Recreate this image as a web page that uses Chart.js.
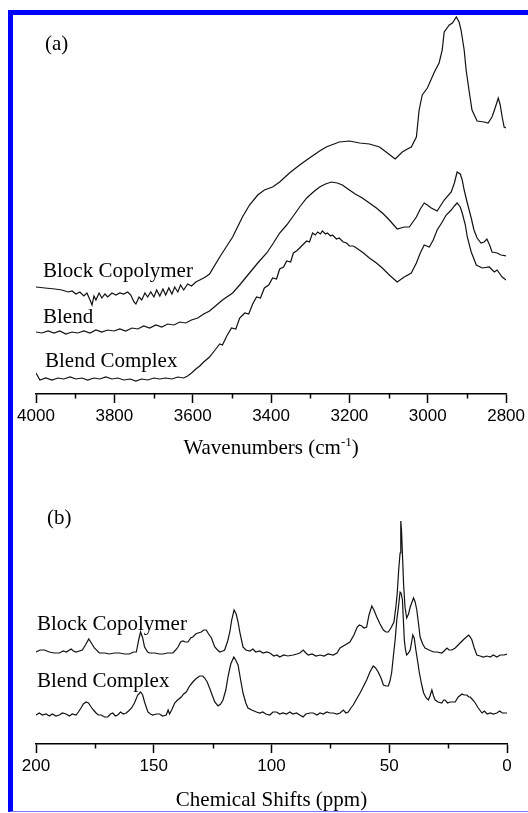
<!DOCTYPE html>
<html>
<head>
<meta charset="utf-8">
<script src="https://cdn.jsdelivr.net/npm/chart.js@4.4.1/dist/chart.umd.min.js"></script>
<style>
  html, body { margin: 0; padding: 0; background: #fff; }
  body { width: 528px; height: 813px; position: relative; overflow: hidden; }
  .frame {
    position: absolute; left: 8px; top: 10px; width: 520px; height: 802px;
    box-sizing: border-box;
    border-left: 5px solid #0000ff; border-top: 5px solid #0000ff;
    border-bottom: 1px solid #7a7aff;
  }
  canvas { position: absolute; left: 0; }
  #ftir { top: 0; }
  #nmr { top: 470px; }
</style>
</head>
<body>
<div class="frame"></div>
<canvas id="ftir" width="528" height="470"></canvas>
<canvas id="nmr" width="528" height="343"></canvas>
<script>
// (a) FTIR spectra, wavenumber (cm-1) vs absorbance (arbitrary, stacked)
const blockWn = [4000,3977,3952,3934,3918,3908,3898,3888,3878,3870,3862,3857,3852,3847,3839,3832,3824,3817,3806,3796,
  3786,3776,3766,3758,3750,3745,3737,3730,3722,3715,3707,3699,3692,3684,3676,3669,3661,3653,3646,3638,
  3631,3623,3613,3603,3592,3582,3572,3564,3557,3531,3498,3473,3455,3434,3417,3396,3378,3353,3327,3302,
  3276,3259,3226,3200,3174,3149,3123,3103,3083,3065,3052,3042,3029,3022,3014,3001,2983,2971,2963,2958,
  2945,2937,2927,2920,2915,2907,2902,2894,2887,2874,2856,2846,2836,2828,2820,2815,2810,2805,2800];
const blockAbs = [107,106,105,104,102,103,100,102,98,101,94,89,98,94,101,96,100,97,101,99,
  101,100,102,99,92,90,97,94,101,97,102,97,104,98,105,99,106,100,107,102,
  109,104,110,108,112,114,116,118,120,137,157,177,189,199,204,207,212,221,229,236,
  243,247,252,253,251,250,247,241,235,242,245,247,257,284,299,306,322,331,344,362,
  369,371,377,372,364,344,324,302,284,273,272,271,277,286,296,289,277,267,266];

const blendWn = [4000,3985,3969,3954,3939,3924,3908,3893,3878,3862,3847,3832,3817,3801,3786,3771,3755,3740,3725,3710,
  3694,3679,3664,3648,3633,3618,3603,3587,3572,3557,3539,3524,3498,3478,3455,3434,3411,3394,3378,3360,
  3345,3327,3309,3292,3276,3261,3246,3231,3218,3200,3185,3167,3149,3131,3113,3098,3078,3060,3047,3029,
  3019,3009,3001,2991,2976,2958,2940,2932,2925,2917,2912,2907,2899,2889,2882,2874,2864,2856,2849,2841,
  2836,2823,2813,2800];
const blendAbs = [62,61,63,61,63,60,62,61,63,61,64,62,64,63,65,63,66,65,68,66,
  69,67,70,69,72,71,74,76,80,83,89,94,101,110,121,131,141,151,161,169,
  177,187,196,202,207,210,212,211,209,204,200,196,191,186,180,174,165,167,167,177,
  185,191,189,186,183,194,202,211,222,220,214,204,191,176,164,156,151,152,155,148,
  142,141,139,138];

const complexWn = [4000,3990,3975,3959,3944,3929,3913,3898,3883,3868,3852,3837,3822,3806,3791,3776,3760,3745,3730,3715,
  3699,3684,3669,3653,3638,3623,3613,3603,3592,3582,3572,3557,3541,3531,3524,3513,3501,3490,3480,3467,
  3457,3447,3437,3427,3417,3406,3396,3386,3378,3368,3360,3350,3343,3335,3327,3317,3309,3302,3294,3287,
  3281,3274,3269,3261,3256,3248,3243,3233,3226,3216,3207,3200,3190,3182,3164,3149,3131,3116,3098,3078,
  3060,3042,3029,3019,3009,2996,2986,2976,2963,2953,2940,2932,2925,2917,2912,2904,2899,2889,2876,2861,
  2843,2830,2823,2810,2800];
const complexAbs = [21,14,16,14,16,15,17,15,16,14,16,15,17,15,16,14,15,13,15,14,
  16,15,16,15,17,16,18,21,25,28,32,37,45,50,49,58,66,65,76,81,
  80,90,97,96,106,109,116,115,125,127,133,132,141,143,146,150,153,152,161,159,
  162,160,163,160,161,158,159,155,156,152,151,148,148,146,141,136,131,126,119,112,
  117,121,131,141,149,147,154,164,172,179,184,188,191,187,181,169,157,142,129,126,
  127,122,124,117,114];

// (b) 13C NMR spectra, chemical shift (ppm) vs intensity (arbitrary, stacked)
const copolyPpm = [200,198.2,196.5,194.3,192.2,190.1,188.4,187.1,185.1,184.1,183.0,181.6,180.3,179.0,177.6,176.5,175.2,173.1,170.9,168.8,
  166.7,164.6,162.4,160.3,158.6,157.4,156.4,155.6,154.7,153.9,152.6,151.8,149.7,147.5,146.1,144.1,141.9,140.7,139.7,138.6,
  137.6,136.5,135.5,134.3,133.4,132.2,131.2,129.8,128.8,127.7,126.7,125.5,124.1,122.9,122.0,120.7,119.9,118.6,117.7,116.9,
  115.9,115.0,114.2,113.3,112.1,110.9,109.2,107.9,106.7,105.0,103.6,102.0,100.7,99.0,97.7,96.5,94.8,93.1,90.8,89.2,
  88.0,86.5,85.4,84.4,82.8,81.1,79.4,77.7,76.0,73.8,72.2,70.9,68.8,66.7,65.0,63.6,62.7,61.7,60.7,59.6,
  58.6,57.4,56.5,55.3,53.9,52.5,51.4,50.4,49.3,48.0,47.1,46.6,46.0,45.4,45.1,44.8,44.3,43.9,43.3,42.6,
  41.8,41.1,39.7,39.0,38.3,37.5,36.9,35.8,34.8,33.1,31.2,29.7,27.7,26.7,25.5,24.6,23.4,22.0,19.9,18.2,
  16.3,15.6,14.9,13.9,12.8,11.4,10.1,8.5,7.1,5.8,4.3,2.9,1.2,0];
const copolyInt = [92,94,94,92,91,91,93,92,95,93,92,93,94,99,105,101,96,91,91,90,
  91,91,90,90,92,92,104,112,106,97,92,91,91,90,90,91,91,94,97,102,
  103,102,102,106,107,110,111,112,114,114,110,106,97,94,92,93,94,103,112,124,
  134,130,122,110,97,94,93,95,92,93,91,92,91,88,89,87,89,88,89,90,
  91,94,91,89,90,88,89,88,90,89,91,96,99,102,109,117,119,118,116,117,
  129,138,134,127,120,114,112,112,116,122,139,151,174,191,223,214,184,159,137,126,
  130,137,146,142,134,119,107,100,96,94,92,92,91,93,96,94,94,96,101,105,
  109,107,104,96,89,88,87,88,87,89,87,89,89,90];

const cplxPpm = [200,198.6,197.3,195.7,194.3,193.1,191.5,190.1,188.8,187.2,185.8,184.6,183.0,182.0,180.9,179.9,178.7,177.7,176.6,175.6,
  174.5,173.5,172.3,170.9,169.5,168.4,167.4,166.3,165.3,164.1,162.9,161.7,160.7,159.4,158.2,156.8,155.6,154.7,153.9,152.5,
  151.4,150.4,148.8,147.5,146.3,144.7,143.9,143.3,142.4,141.1,139.9,138.3,137.3,136.2,134.8,133.4,132.2,130.5,129.2,128.4,
  127.3,126.3,125.2,124.1,122.7,121.6,120.6,119.4,118.5,117.3,116.0,115.2,114.2,113.1,112.1,110.9,110.0,108.4,106.4,105.0,
  103.7,102.4,100.7,99.4,97.9,96.5,95.2,93.6,92.2,90.9,89.4,88.0,86.6,85.4,83.7,82.3,80.7,79.4,78.0,76.5,
  75.2,73.8,72.2,70.9,69.5,68.4,67.4,66.3,65.3,64.1,62.4,61.1,59.6,58.2,56.8,55.8,54.7,53.5,52.5,51.4,
  50.4,49.7,49.0,48.2,47.5,46.8,46.1,45.4,45.0,44.4,44.0,43.6,43.1,42.6,41.8,41.1,40.5,40.0,39.4,38.7,
  37.9,37.2,36.2,35.4,34.3,33.4,32.7,31.9,31.2,30.5,29.3,27.7,26.9,26.3,25.2,24.1,23.1,22.0,20.7,19.1,
  18.2,17.0,16.3,15.6,14.5,13.5,12.2,10.6,9.6,8.4,7.1,5.8,4.3,3.1,2.0,0];
const cplxInt = [29,31,29,30,28,30,28,29,31,30,28,30,29,32,36,40,42,41,37,34,
  31,29,29,27,27,30,31,28,29,32,30,31,33,36,41,49,52,49,42,32,
  30,29,30,30,28,29,34,30,34,41,44,47,50,52,58,62,65,68,68,66,
  62,56,49,42,38,40,44,54,67,80,87,84,79,64,51,41,36,34,32,31,
  32,30,29,32,32,30,31,30,32,30,31,29,27,30,31,31,29,31,30,32,
  31,31,30,31,34,31,32,36,39,44,51,57,64,72,78,76,72,66,59,58,
  58,63,71,89,104,124,137,152,151,144,124,104,94,89,91,94,102,109,106,94,
  82,71,59,51,46,44,48,54,48,44,42,41,44,44,41,42,42,42,47,50,
  49,49,47,47,44,41,36,31,33,30,31,30,31,33,31,31];

const ftirTicks = { min: 2800, max: 4000, major: 200, minor: 100 };
const nmrTicks = { min: 0, max: 200, major: 50, minor: 25 };

const serif = '"Liberation Serif", "Times New Roman", serif';
const sans = '"Liberation Sans", Arial, sans-serif';

function toPoints(xs, ys) {
  return xs.map((x, i) => ({ x: x, y: ys[i] }));
}

function spectrum(xs, ys) {
  return {
    data: toPoints(xs, ys),
    showLine: true,
    pointRadius: 0,
    borderColor: '#111',
    borderWidth: 1.2,
    tension: 0,
    fill: false
  };
}

// short ticks between the labelled ones
const minorTicks = {
  id: 'minorTicks',
  afterDraw(chart, args, opts) {
    const scale = chart.scales.x;
    const ctx = chart.ctx;
    ctx.save();
    ctx.strokeStyle = '#000';
    ctx.lineWidth = 1.5;
    for (let v = scale.min + opts.step; v < scale.max; v += opts.step) {
      if (v % opts.major === 0) continue;
      const x = Math.round(scale.getPixelForValue(v)) + 0.5;
      ctx.beginPath();
      ctx.moveTo(x, scale.top);
      ctx.lineTo(x, scale.top + opts.length);
      ctx.stroke();
    }
    ctx.restore();
  }
};

// panel letter, curve names and the axis title (with superscript part)
const panelText = {
  id: 'panelText',
  afterDraw(chart, args, opts) {
    const ctx = chart.ctx;
    ctx.save();
    ctx.fillStyle = '#000';
    ctx.textBaseline = 'alphabetic';
    ctx.textAlign = 'left';
    ctx.font = '21px ' + serif;
    opts.labels.forEach(l => ctx.fillText(l.text, l.x, l.y));

    const area = chart.chartArea;
    const parts = opts.title.map(p => {
      const font = (p.sup ? '13px ' : '21px ') + serif;
      ctx.font = font;
      return { text: p.text, font: font, sup: p.sup, w: ctx.measureText(p.text).width };
    });
    const total = parts.reduce((s, p) => s + p.w, 0);
    let x = (area.left + area.right) / 2 - total / 2;
    const y = area.bottom + opts.titleOffset;
    parts.forEach(p => {
      ctx.font = p.font;
      ctx.fillText(p.text, x, p.sup ? y - 8 : y);
      x += p.w;
    });
    ctx.restore();
  }
};

function makeChart(canvasId, datasets, ticks, yMax, padding, text) {
  return new Chart(document.getElementById(canvasId).getContext('2d'), {
    type: 'scatter',
    data: { datasets: datasets },
    plugins: [minorTicks, panelText],
    options: {
      responsive: false,
      animation: false,
      events: [],
      layout: { padding: padding },
      plugins: {
        legend: { display: false },
        tooltip: { enabled: false },
        minorTicks: { step: ticks.minor, major: ticks.major, length: 4.5 },
        panelText: text
      },
      scales: {
        x: {
          type: 'linear',
          reverse: true,
          min: ticks.min,
          max: ticks.max,
          ticks: {
            stepSize: ticks.major,
            autoSkip: false,
            maxRotation: 0,
            padding: 3,
            color: '#000',
            font: { family: sans, size: 17 },
            callback: v => String(v)
          },
          grid: {
            drawOnChartArea: false,
            drawTicks: true,
            tickLength: 9,
            tickColor: '#000',
            tickWidth: 1.5
          },
          border: { display: true, color: '#000', width: 1.5 }
        },
        y: { display: false, min: 0, max: yMax }
      }
    }
  });
}

makeChart('ftir',
  [spectrum(blockWn, blockAbs), spectrum(blendWn, blendAbs), spectrum(complexWn, complexAbs)],
  ftirTicks, 380,
  { left: 36, right: 21, top: 14, bottom: 40.6 },
  {
    labels: [
      { text: '(a)', x: 45, y: 50 },
      { text: 'Block Copolymer', x: 43, y: 277 },
      { text: 'Blend', x: 43, y: 323 },
      { text: 'Blend Complex', x: 45, y: 367 }
    ],
    title: [{ text: 'Wavenumbers (cm' }, { text: '-1', sup: true }, { text: ')' }],
    titleOffset: 60
  });

makeChart('nmr',
  [spectrum(copolyPpm, copolyInt), spectrum(cplxPpm, cplxInt)],
  nmrTicks, 234,
  { left: 36, right: 21, top: 40, bottom: 33.6 },
  {
    labels: [
      { text: '(b)', x: 47, y: 54 },
      { text: 'Block Copolymer', x: 37, y: 160 },
      { text: 'Blend Complex', x: 37, y: 217 }
    ],
    title: [{ text: 'Chemical Shifts (ppm)' }],
    titleOffset: 62
  });
</script>
</body>
</html>
